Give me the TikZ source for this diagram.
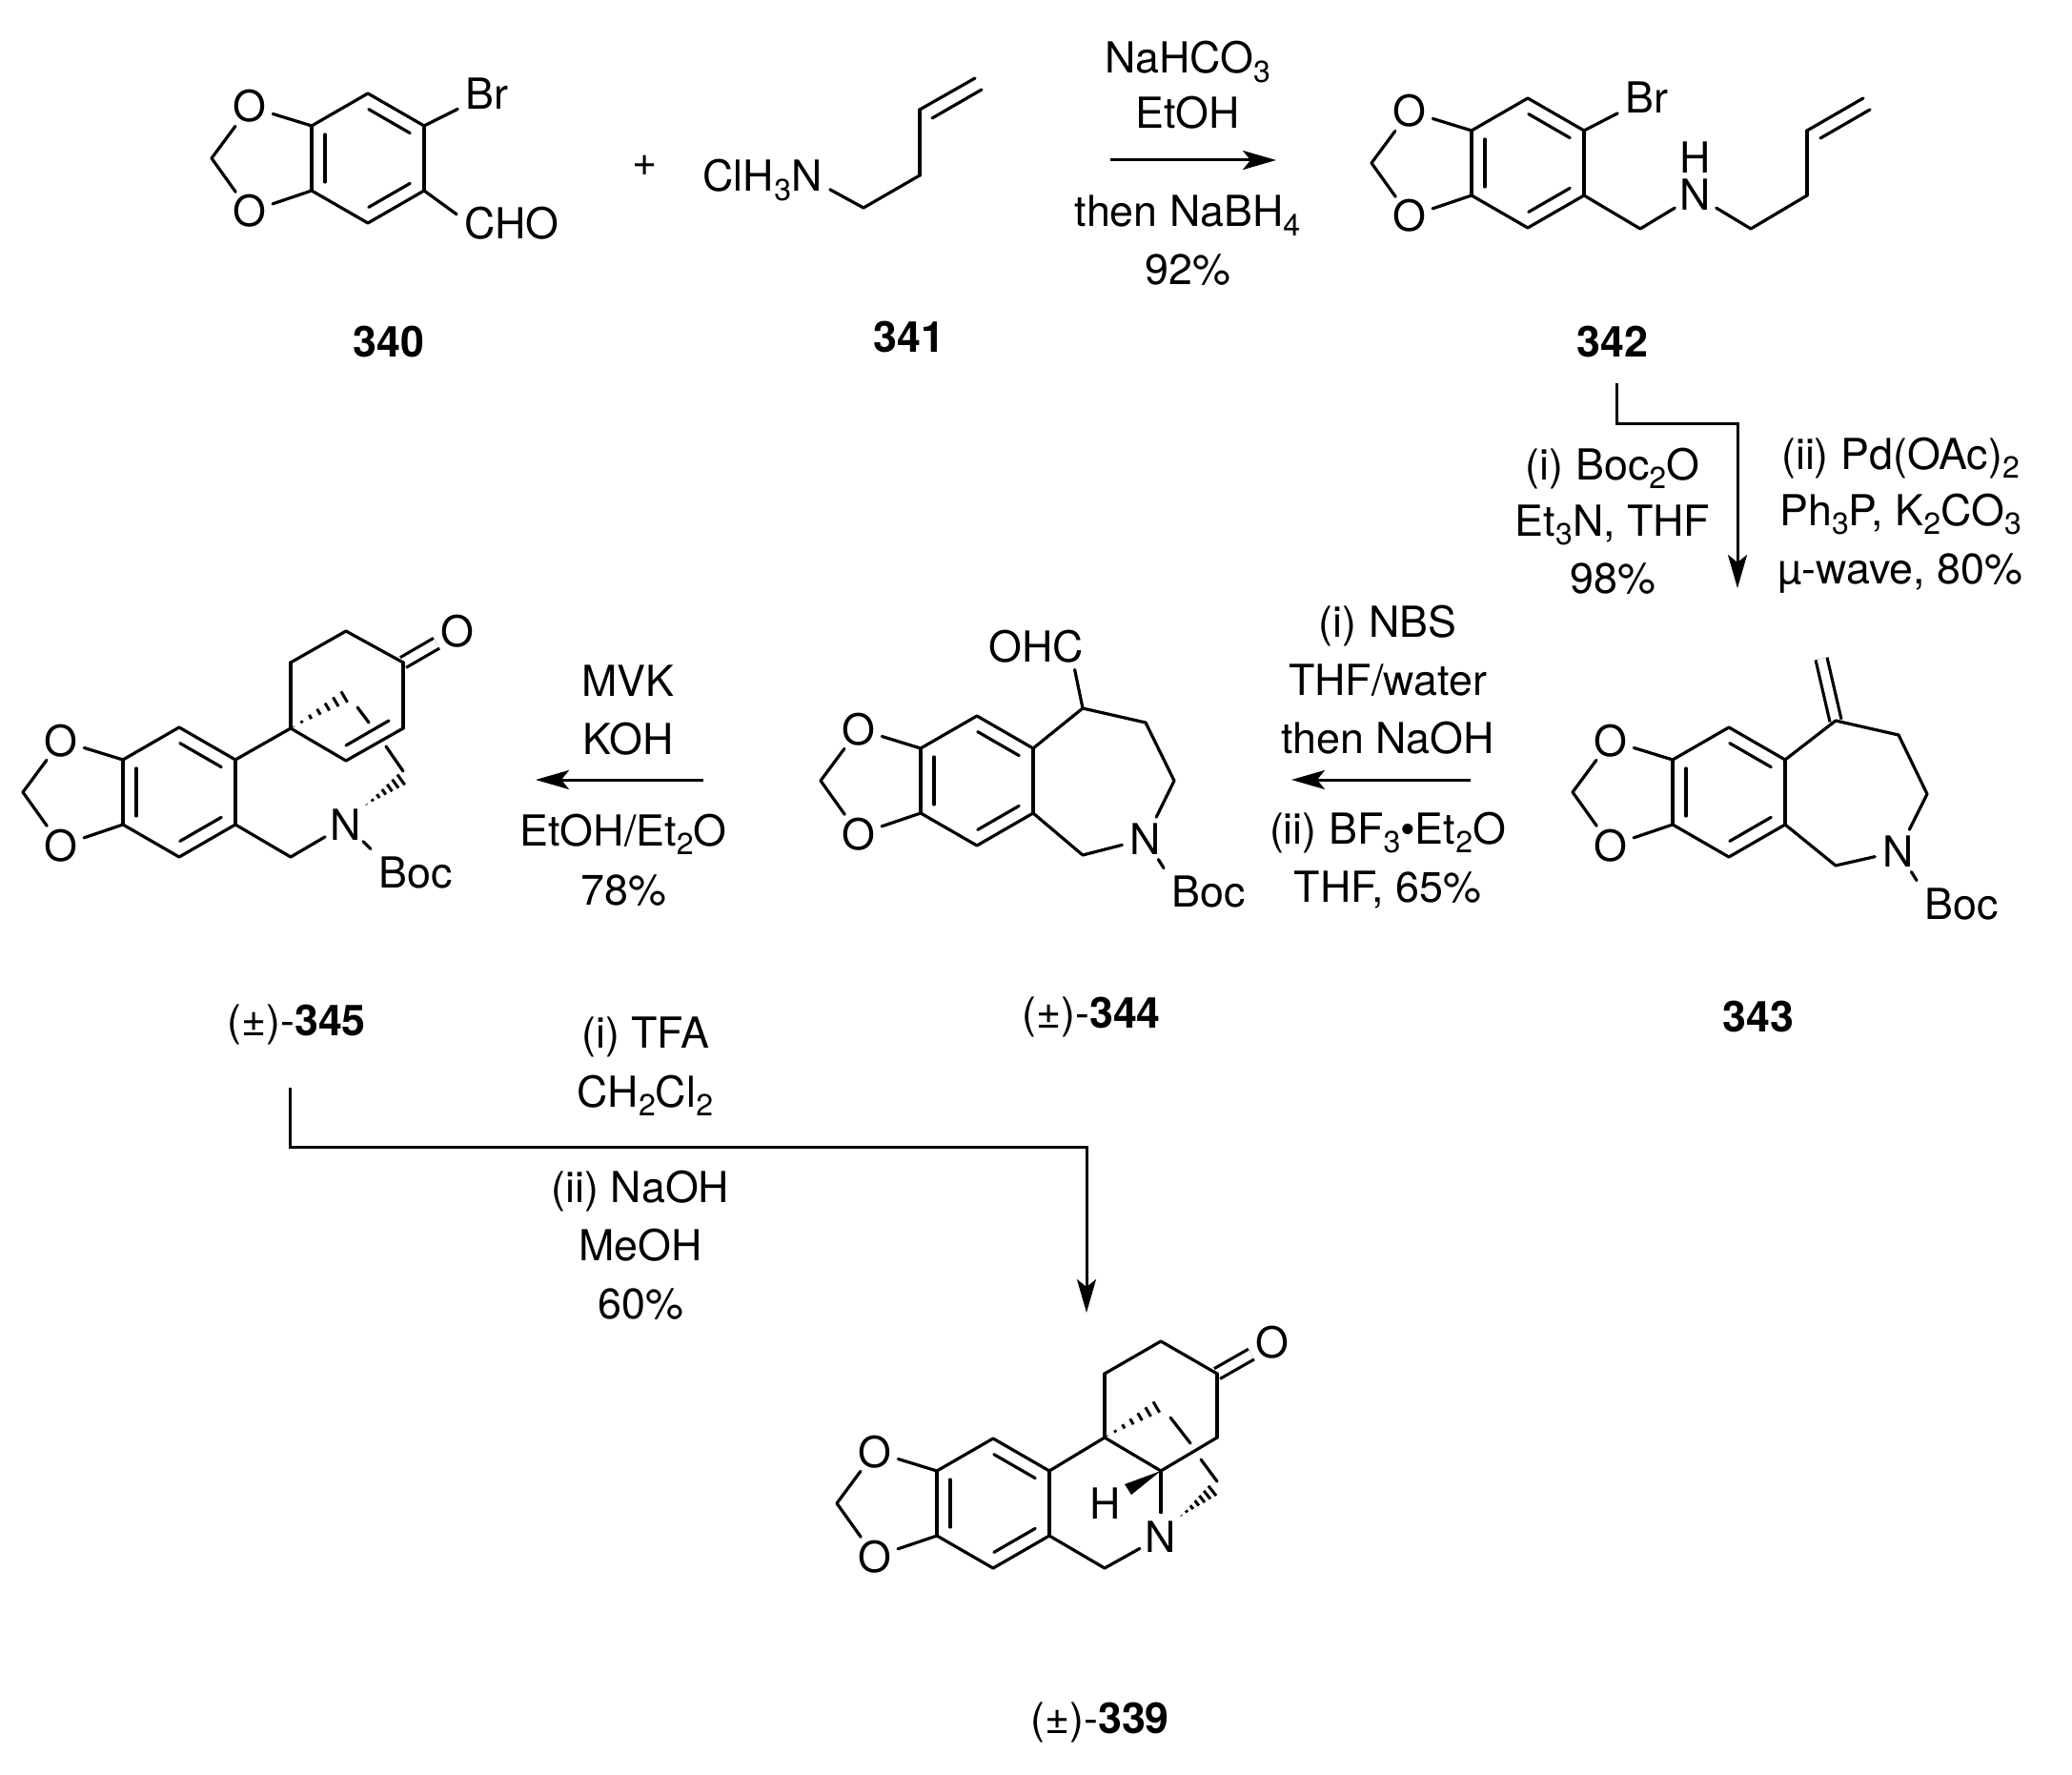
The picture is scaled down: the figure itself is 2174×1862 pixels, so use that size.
\documentclass[tikz,border=0pt]{standalone}
\usepackage{fontspec}
\setmainfont{TeX Gyre Heros}
\usetikzlibrary{arrows.meta,calc}
\newcommand{\sbs}[1]{\raisebox{-0.22em}{\fontsize{16}{18}\selectfont #1}}
%% a bond drawn inside a ring
\newcommand{\innerBond}[2]{%
  \draw[bondLine] ($(#1)!4.5pt!(#2)!7pt!-90:(#2)$) -- ($(#2)!4.5pt!(#1)!7pt!90:(#1)$);}
%% hashed bond, narrow at the first point
\newcommand{\hashBond}[2]{%
  \foreach \t in {0,...,6}{
    \pgfmathsetmacro{\u}{(\t+.3)/6.5}
    \pgfmathsetmacro{\w}{\u*3.4}
    \draw[hashLine] ($(#1)!\u!(#2)!\w pt!90:(#2)$) -- ($(#1)!\u!(#2)!\w pt!-90:(#2)$);
  }}
\newcommand{\bondList}[1]{%
  \foreach \startnode/\endnode in {#1}{\draw[bondLine] (\startnode) -- (\endnode);}}
%% benzodioxole unit, placed by its upper left ring corner
\newcommand{\ringUnit}[3]{%
  \begin{scope}[shift={(#2,#3)}]
    \foreach \nodename/\x/\y in {a/0/0, b/59/-34, c/118/0, d/118/68, e/59/102, f/0/68, m/-105/34}
    {
      \coordinate (#1\nodename) at (\x,\y);
    }
    \node[atomNode] (#1o) at (-65,-20) {O};
    \node[atomNode] (#1q) at (-65,90) {O};
  \end{scope}
  \bondList{#1a/#1b, #1b/#1c, #1c/#1d, #1d/#1e, #1e/#1f, #1f/#1a, #1a/#1o, #1f/#1q, #1o/#1m, #1q/#1m}
  \innerBond{#1b}{#1c}
  \innerBond{#1d}{#1e}
  \innerBond{#1f}{#1a}}
\begin{document}
\begin{tikzpicture}
[x=0.5pt,y=-0.5pt,%
  bondLine/.style={-,line width=1.6pt,line cap=round,line join=round},%
  hashLine/.style={-,line width=1.5pt},%
  bondDouble/.style={-,line width=1.6pt,double,double distance=4.5pt},%
  atomNode/.style={shape=circle,inner sep=0pt,minimum size=25pt,text height=16pt,text depth=0pt},%
  groupNode/.style={shape=rectangle,inner sep=4pt,text height=16pt,text depth=0pt},%
  textNode/.style={shape=rectangle,inner sep=0pt,text height=16pt,text depth=0pt},%
  stepArrow/.style={-{Stealth[length=17.5pt,width=10pt,inset=4pt]},line width=1.5pt},%
  font=\fontsize{22.4}{26}\selectfont]
\path[use as bounding box] (0,0) rectangle (2174,1862);
%% reagents and compound numbers
\foreach \nodename/\x/\y/\content in {
  naHco/1246/61/{NaHCO\sbs{3}}, etOh/1246/119/EtOH,
  naBh/1246/222/{then NaBH\sbs{4}}, yieldA/1246/283/92\%,
  plusSign/677/169/+,
  num340/408/358/\textbf{340}, num341/954/354/\textbf{341}, num342/1692/358/\textbf{342},
  boc/1692/487/{(i) Boc\sbs{2}O}, etN/1692/546/{Et\sbs{3}N, THF}, yieldB/1692/606/98\%,
  pdOac/1994/476/{(ii) Pd(OAc)\sbs{2}}, phP/1994/535/{Ph\sbs{3}P, K\sbs{2}CO\sbs{3}},
  wave/1994/596/{µ-wave, 80\%},
  nbs/1456/652/(i) NBS, thfWater/1456/713/{THF/water}, naOh/1456/774/then NaOH,
  bfEt/1456/869/{(ii) BF\sbs{3}•Et\sbs{2}O}, yieldC/1456/930/{THF, 65\%},
  mvk/659/714/MVK, koh/659/775/KOH, etEt/654/871/{EtOH/Et\sbs{2}O}, yieldD/654/933/78\%,
  num345/311/1070/{(±)-\textbf{345}}, num344/1145/1062/{(±)-\textbf{344}}, num343/1845/1066/\textbf{343},
  tfa/677/1083/(i) TFA, chCl/677/1145/{CH\sbs{2}Cl\sbs{2}},
  naOhb/672/1245/(ii) NaOH, meOh/672/1306/MeOH, yieldE/672/1367/60\%,
  num339/1154/1802/{(±)-\textbf{339}}}
{
  \node[textNode] (\nodename) at (\x,\y) {\content};
}
%% arrows
\foreach \nodename/\x/\y in {
  arA/1165/168, arB/1339/168, arC/1696/402, arD/1696/444, arE/1823/444, arF/1823/617,
  arG/1543/818, arH/1355/818, arI/738/818, arJ/562/818,
  arK/304/1141, arL/304/1203, arM/1140/1203, arN/1140/1377}
{
  \coordinate (\nodename) at (\x,\y);
}
\draw[stepArrow] (arA) -- (arB);
\draw[stepArrow] (arC) -- (arD) -- (arE) -- (arF);
\draw[stepArrow] (arG) -- (arH);
\draw[stepArrow] (arI) -- (arJ);
\draw[stepArrow] (arK) -- (arL) -- (arM) -- (arN);
%% 340
\ringUnit{pa}{327}{132}
\node[groupNode] (paBr) at (511,99) {Br};
\node[groupNode] (paCho) at (537,235) {CHO};
\bondList{pac/paBr, pad/paCho.170}
%% 341
\node[groupNode] (pbN) at (800,185) {ClH\sbs{3}N};
\foreach \nodename/\x/\y in {u/906/218, v/965/184, w/965/115, z/1023/82, ia/978/124, ib/1030/94}
{
  \coordinate (pb\nodename) at (\x,\y);
}
\bondList{pbN.349/pbu, pbu/pbv, pbv/pbw, pbw/pbz, pbia/pbib}
%% 342
\ringUnit{pc}{1544}{137}
\node[groupNode] (pcBr) at (1728,103) {Br};
\node[atomNode] (pcN) at (1779,205) {N};
\node[textNode] (pcH) at (1779,166) {H};
\foreach \nodename/\x/\y in {s/1721/240, u/1837/240, v/1896/205, w/1896/137, z/1955/103, ia/1910/145, ib/1962/115}
{
  \coordinate (pc\nodename) at (\x,\y);
}
\bondList{pcc/pcBr, pcd/pcs, pcs/pcN, pcN/pcu, pcu/pcv, pcv/pcw, pcw/pcz, pcia/pcib}
%% 343
\coordinate (pdz) at (1911,691);
\coordinate (pdt) at (1926,756);
\draw[bondDouble] (pdt) -- (pdz);
\ringUnit{pd}{1755}{797}
\node[atomNode] (pdN) at (1992,893) {N};
\node[groupNode] (pdBoc) at (2058,948) {Boc};
\foreach \nodename/\x/\y in {u/1992/771, v/2022/833, s/1926/908}
{
  \coordinate (pd\nodename) at (\x,\y);
}
\bondList{pdc/pdt, pdt/pdu, pdu/pdv, pdv/pdN, pdN/pds, pds/pdd, pdN/pdBoc.north west}
%% 344
\ringUnit{pe}{966}{785}
\node[atomNode] (peN) at (1202,880) {N};
\node[groupNode] (peBoc) at (1268,935) {Boc};
\node[groupNode] (peCho) at (1087,678) {OHC};
\foreach \nodename/\x/\y in {t/1136/743, u/1202/758, v/1232/819, s/1136/897}
{
  \coordinate (pe\nodename) at (\x,\y);
}
\bondList{pec/pet, pet/peCho.329, pet/peu, peu/pev, pev/peN, peN/pes, pes/ped, peN/peBoc.north west}
%% 345
\ringUnit{pf}{129}{797}
\node[atomNode] (pfN) at (363,865) {N};
\node[groupNode] (pfBoc) at (436,915) {Boc};
\node[atomNode] (pfO) at (480,662) {O};
\foreach \nodename/\x/\y in {
  s/305/899, t/305/764, u/305/695, v/363/662, w/423/695, x/423/764, y/363/798,
  ha/363/730, ka/375/742, kb/387/758, kc/405/783, kd/423/809, he/422/817, hs/383/845,
  ia/408/756, ib/363/782}
{
  \coordinate (pf\nodename) at (\x,\y);
}
\draw[bondDouble] (pfw) -- (pfO);
\bondList{pfc/pft, pft/pfu, pfu/pfv, pfv/pfw, pfw/pfx, pfx/pfy, pfy/pft, pfd/pfs, pfs/pfN,
  pfN/pfBoc.north west, pfka/pfkb, pfkc/pfkd, pfia/pfib}
\hashBond{pft}{pfha}
\hashBond{pfhs}{pfhe}
%% 339
\ringUnit{pg}{983}{1543}
\node[atomNode] (pgN) at (1218,1612) {N};
\node[textNode] (pgH) at (1160,1577) {H};
\node[atomNode] (pgO) at (1335,1408) {O};
\foreach \nodename/\x/\y in {
  s/1159/1645, t/1159/1508, u/1159/1441, v/1218/1407, w/1277/1441, x/1277/1508, y/1218/1543,
  ha/1215/1475, ka/1228/1487, kb/1249/1514, kc/1260/1531, kd/1277/1554, he/1273/1563, hs/1238/1591,
  wa/1180/1557, wb/1187/1568}
{
  \coordinate (pg\nodename) at (\x,\y);
}
\draw[bondDouble] (pgw) -- (pgO);
\bondList{pgc/pgt, pgt/pgu, pgu/pgv, pgv/pgw, pgw/pgx, pgx/pgy, pgy/pgt, pgy/pgN, pgd/pgs, pgs/pgN,
  pgka/pgkb, pgkc/pgkd}
\fill (pgy) -- (pgwa) -- (pgwb) -- cycle;
\hashBond{pgt}{pgha}
\hashBond{pghs}{pghe}
\end{tikzpicture}
\end{document}
